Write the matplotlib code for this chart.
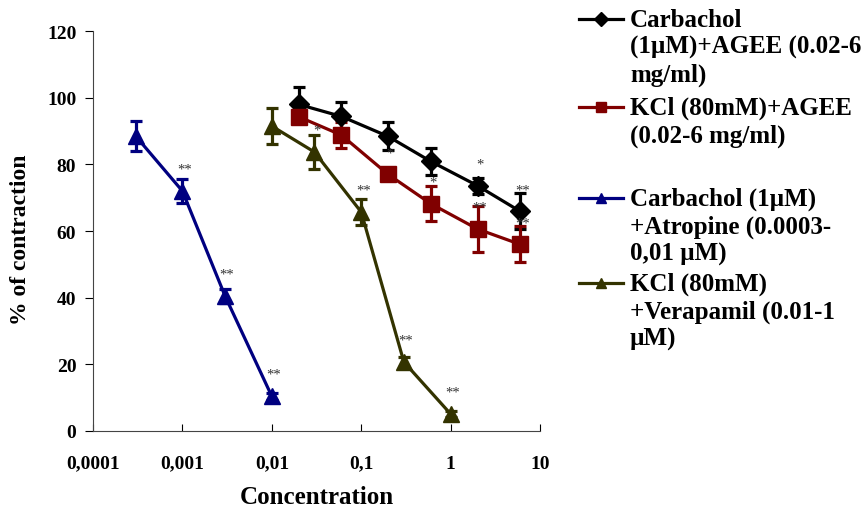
"""
Concentration-response curves: % of contraction vs concentration (log scale).
"""
import matplotlib
matplotlib.use("Agg")
import matplotlib.pyplot as plt
from matplotlib.lines import Line2D

plt.rcParams["font.family"] = ["Liberation Serif", "DejaVu Serif"]
plt.rcParams["font.weight"] = "bold"

# --- data ---
carb_agee_x   = [0.02, 0.06, 0.2, 0.6, 2, 6]
carb_agee_y   = [98.0, 94.4, 88.4, 80.9, 73.6, 65.9]
carb_agee_err = [5.3, 4.4, 4.2, 4.0, 2.4, 5.4]
carb_agee_sig = ["", "", "", "", "*", "**"]

kcl_agee_x   = [0.02, 0.06, 0.2, 0.6, 2, 6]
kcl_agee_y   = [94.3, 88.8, 77.0, 68.2, 60.6, 56.0]
kcl_agee_err = [1.5, 4.0, 1.5, 5.2, 7.0, 5.4]
kcl_agee_sig = ["", "", "*", "*", "**", "**"]

carb_atr_x   = [0.0003, 0.001, 0.003, 0.01]
carb_atr_y   = [88.5, 72.0, 40.5, 10.4]
carb_atr_err = [4.5, 3.7, 2.0, 1.0]
carb_atr_sig = ["", "**", "**", "**"]

kcl_ver_x   = [0.01, 0.03, 0.1, 0.3, 1]
kcl_ver_y   = [91.5, 83.7, 65.7, 20.7, 5.1]
kcl_ver_err = [5.5, 5.0, 4.0, 1.5, 1.0]
kcl_ver_sig = ["", "*", "**", "**", "**"]

xticks      = [0.0001, 0.001, 0.01, 0.1, 1, 10]
xticklabels = ["0,0001", "0,001", "0,01", "0,1", "1", "10"]
yticks      = [0, 20, 40, 60, 80, 100, 120]

labels = [
    "Carbachol\n(1\u00b5M)+AGEE (0.02-6\nmg/ml)",
    "KCl (80mM)+AGEE\n(0.02-6 mg/ml)",
    "Carbachol (1\u00b5M)\n+Atropine (0.0003-\n0,01 \u00b5M)",
    "KCl (80mM)\n+Verapamil (0.01-1\n\u00b5M)",
]

series = [
    (carb_agee_x, carb_agee_y, carb_agee_err, carb_agee_sig, "#000000", "D", 10),
    (kcl_agee_x, kcl_agee_y, kcl_agee_err, kcl_agee_sig, "#800000", "s", 11),
    (carb_atr_x, carb_atr_y, carb_atr_err, carb_atr_sig, "#000080", "^", 12),
    (kcl_ver_x, kcl_ver_y, kcl_ver_err, kcl_ver_sig, "#333300", "^", 12),
]

fig = plt.figure(figsize=(8.66, 5.10), dpi=100)
ax = fig.add_axes([0.1074, 0.153, 0.5162, 0.784])

for x, y, err, sig, col, mk, ms in series:
    ax.errorbar(x, y, yerr=err, color=col, marker=mk, markersize=ms, lw=2.3,
                elinewidth=2.3, capsize=4.5, capthick=2.3, zorder=3)
    for xi, yi, s in zip(x, y, sig):
        if s:
            ax.annotate(s, (xi, yi), xytext=(1.5, 11), textcoords="offset points",
                        ha="center", va="bottom", fontsize=10.5, fontweight="normal",
                        color="#333333", zorder=4)

ax.set_xscale("log")
ax.set_xlim(0.0001, 10)
ax.set_ylim(0, 120)
ax.set_xticks(xticks)
ax.set_xticklabels(xticklabels)
ax.set_yticks(yticks)
ax.minorticks_off()
ax.tick_params(axis="x", direction="in", length=5, labelsize=14, pad=17)
ax.tick_params(axis="y", direction="out", length=6, labelsize=14, pad=6)
for lab in ax.get_xticklabels() + ax.get_yticklabels():
    lab.set_fontweight("bold")
ax.spines["top"].set_visible(False)
ax.spines["right"].set_visible(False)
ax.spines["left"].set_color("#444444")
ax.spines["bottom"].set_color("#444444")
ax.set_xlabel("Concentration", fontsize=18, fontweight="bold", labelpad=10)
ax.set_ylabel("% of contraction", fontsize=17, fontweight="bold")
ax.yaxis.set_label_coords(-0.138, 0.48)

# legend drawn by hand to keep the uneven spacing of the original
W, H = 866.0, 510.0
leg_y = [20, 108, 199, 284]
for (x, y, err, sig, col, mk, ms), lab, yy in zip(series, labels, leg_y):
    fy = 1 - yy / H
    fig.add_artist(Line2D([579 / W, 623 / W], [fy, fy], color=col, lw=2.3,
                          transform=fig.transFigure))
    fig.add_artist(Line2D([601 / W], [fy], color=col, marker=mk, markersize=7,
                          transform=fig.transFigure))
    fig.text(630 / W, fy + 11 / H, lab, ha="left", va="top", fontsize=18,
             fontweight="bold", linespacing=1.22)

fig.savefig("out.png", dpi=100)
